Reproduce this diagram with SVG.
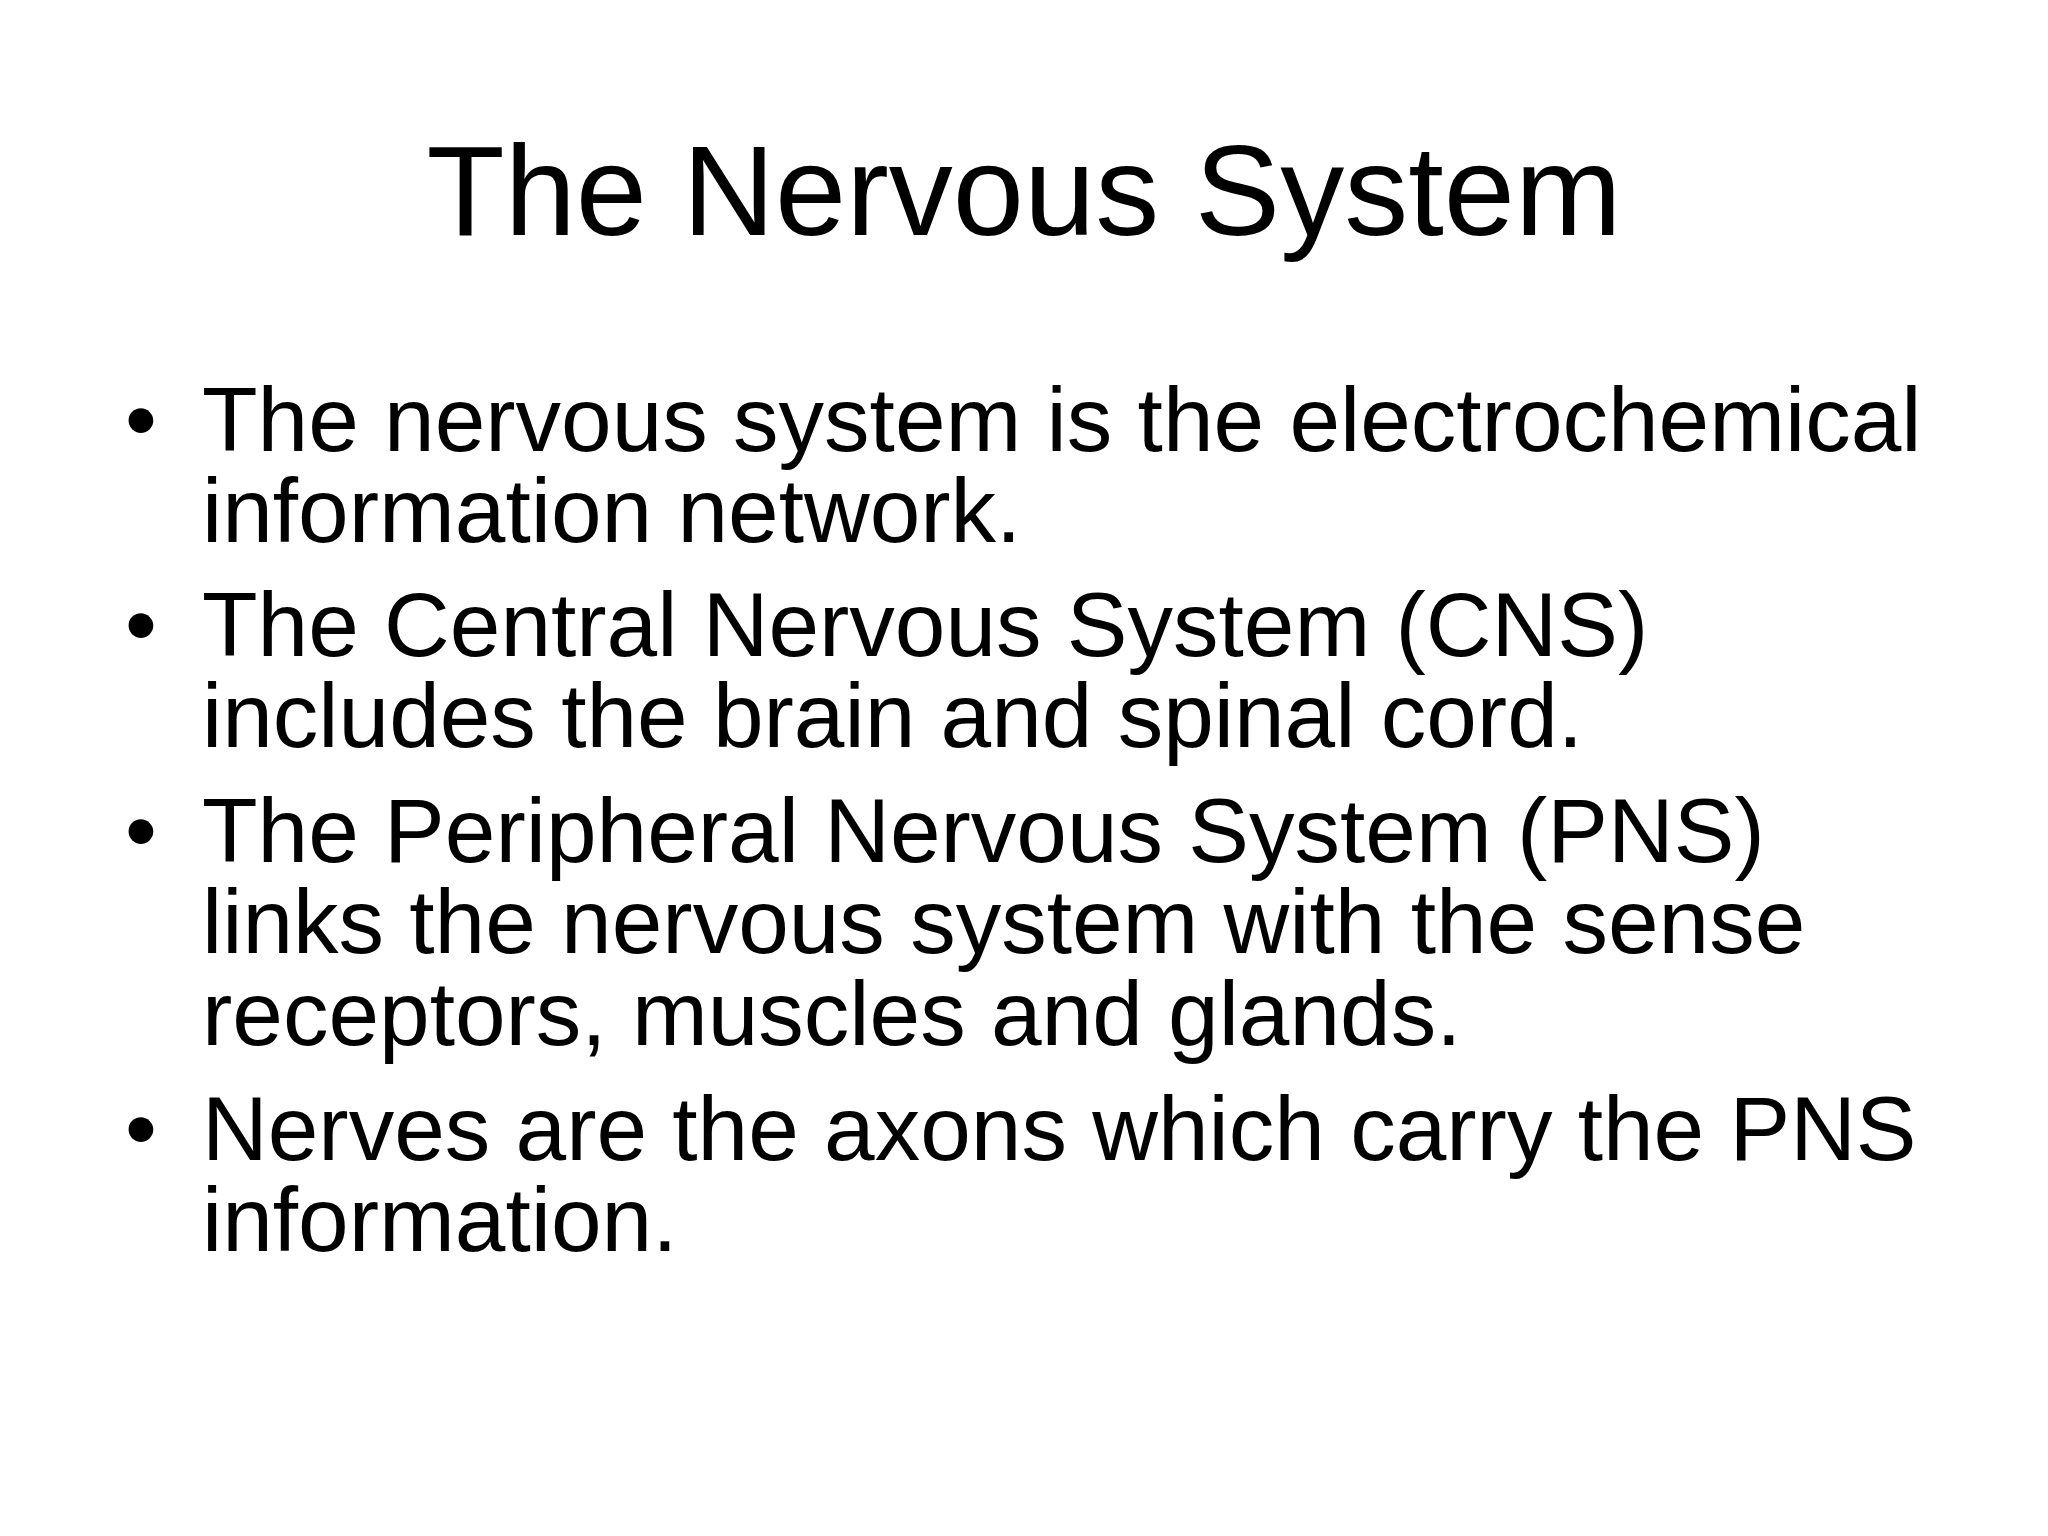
<svg xmlns="http://www.w3.org/2000/svg" width="2048" height="1536" viewBox="0 0 2048 1536">
<style>
text{font-family:"Liberation Sans",Arial,sans-serif;fill:#000}
.t{font-size:128px}
.b{font-size:91px}
</style>
<rect width="2048" height="1536" fill="#fff"/>
<text class="t" x="1024" y="235" text-anchor="middle">The Nervous System</text>
<g class="b">
<text class="b" x="125" y="451">•</text>
<text class="b" x="202" y="451">The nervous system is the electrochemical</text>
<text class="b" x="202" y="542">information network.</text>
<text class="b" x="125" y="656">•</text>
<text class="b" x="202" y="656">The Central Nervous System (CNS)</text>
<text class="b" x="202" y="747">includes the brain and spinal cord.</text>
<text class="b" x="125" y="862">•</text>
<text class="b" x="202" y="862">The Peripheral Nervous System (PNS)</text>
<text class="b" x="202" y="953">links the nervous system with the sense</text>
<text class="b" x="202" y="1045">receptors, muscles and glands.</text>
<text class="b" x="125" y="1160">•</text>
<text class="b" x="202" y="1160">Nerves are the axons which carry the PNS</text>
<text class="b" x="202" y="1251">information.</text>
</g>
</svg>
